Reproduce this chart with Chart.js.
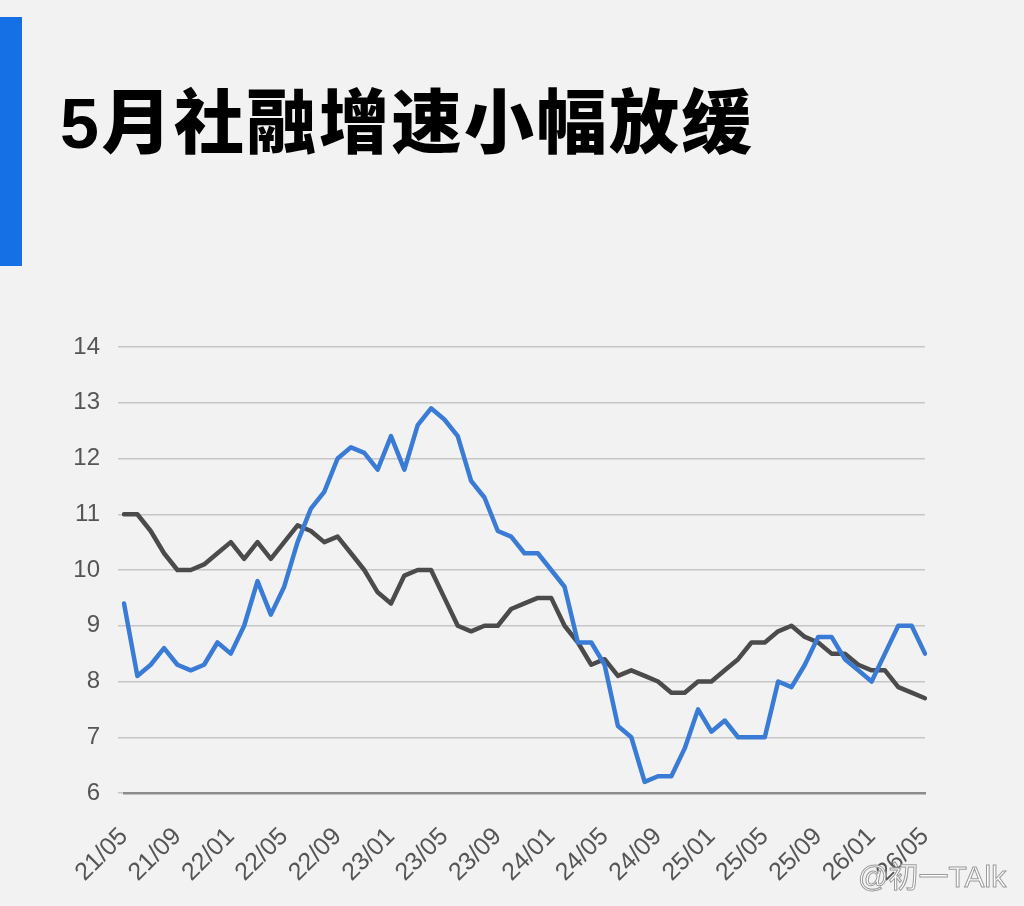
<!DOCTYPE html>
<html>
<head>
<meta charset="utf-8">
<script src="https://cdn.jsdelivr.net/npm/chart.js@4.4.1/dist/chart.umd.min.js"></script>
<style>
  html, body { margin: 0; padding: 0; background: #f2f2f2; }
  body { width: 1024px; height: 906px; position: relative; overflow: hidden; }
  #bar { position: absolute; left: 0; top: 17px; width: 22px; height: 249px; background: #1570e6; }
  #title { position: absolute; left: 60px; top: 89px; font-family: "Liberation Sans", "Noto Sans CJK SC", sans-serif; font-weight: 900; font-size: 70px; line-height: 1; letter-spacing: 2.5px; color: #000; white-space: nowrap; }
  #wrap { position: absolute; left: 0; top: 0; width: 1024px; height: 906px; }
  #wm { position: absolute; left: 858px; top: 852px; font-family: "Liberation Sans", "Noto Sans CJK SC", sans-serif; font-size: 30px; color: #ffffff; -webkit-text-stroke: 1px #9a9a9a; white-space: nowrap; }
</style>
</head>
<body>
<div id="bar"></div>
<div id="title">5月社融增速小幅放缓</div>
<div id="wrap"><canvas id="c" width="1024" height="906"></canvas></div>
<div id="wm">@初一TAlk</div>
<script>
const months = [
  "21/05","21/06","21/07","21/08","21/09","21/10","21/11","21/12",
  "22/01","22/02","22/03","22/04","22/05","22/06","22/07","22/08","22/09","22/10","22/11","22/12",
  "23/01","23/02","23/03","23/04","23/05","23/06","23/07","23/08","23/09","23/10","23/11","23/12",
  "24/01","24/02","24/03","24/04","24/05","24/06","24/07","24/08","24/09","24/10","24/11","24/12",
  "25/01","25/02","25/03","25/04","25/05","25/06","25/07","25/08","25/09","25/10","25/11","25/12",
  "26/01","26/02","26/03","26/04","26/05"
];
const blueSeries = [
  9.4, 8.1, 8.3, 8.6, 8.3, 8.2, 8.3, 8.7,
  8.5, 9.0, 9.8, 9.2, 9.7, 10.5, 11.1, 11.4, 12.0, 12.2, 12.1, 11.8,
  12.4, 11.8, 12.6, 12.9, 12.7, 12.4, 11.6, 11.3, 10.7, 10.6, 10.3, 10.3,
  10.0, 9.7, 8.7, 8.7, 8.3, 7.2, 7.0, 6.2, 6.3, 6.3, 6.8, 7.5,
  7.1, 7.3, 7.0, 7.0, 7.0, 8.0, 7.9, 8.3, 8.8, 8.8, 8.4, 8.2,
  8.0, 8.5, 9.0, 9.0, 8.5
];
const graySeries = [
  11.0, 11.0, 10.7, 10.3, 10.0, 10.0, 10.1, 10.3,
  10.5, 10.2, 10.5, 10.2, 10.5, 10.8, 10.7, 10.5, 10.6, 10.3, 10.0, 9.6,
  9.4, 9.9, 10.0, 10.0, 9.5, 9.0, 8.9, 9.0, 9.0, 9.3, 9.4, 9.5,
  9.5, 9.0, 8.7, 8.3, 8.4, 8.1, 8.2, 8.1, 8.0, 7.8, 7.8, 8.0,
  8.0, 8.2, 8.4, 8.7, 8.7, 8.9, 9.0, 8.8, 8.7, 8.5, 8.5, 8.3,
  8.2, 8.2, 7.9, 7.8, 7.7
];
const yMin = 6, yMax = 14, yStep = 1;
const labelEvery = 4;

new Chart(document.getElementById('c'), {
  type: 'line',
  data: {
    labels: months,
    datasets: [
      { data: blueSeries, borderColor: '#3a7bd5', borderWidth: 4.5, pointRadius: 0, tension: 0, borderJoinStyle: 'round', borderCapStyle: 'round' },
      { data: graySeries, borderColor: '#4b4b4b', borderWidth: 4.5, pointRadius: 0, tension: 0, borderJoinStyle: 'round', borderCapStyle: 'round' }
    ]
  },
  options: {
    responsive: false,
    animation: false,
    events: [],
    layout: { padding: { top: 347, right: 99, bottom: 0, left: 0 } },
    plugins: { legend: { display: false }, tooltip: { enabled: false }, title: { display: false } },
    scales: {
      x: {
        type: 'category',
        offset: false,
        grid: { display: false },
        border: { display: true, color: '#8c8c8c', width: 2.5 },
        ticks: {
          autoSkip: false,
          maxRotation: 45, minRotation: 45,
          padding: 21,
          color: '#555555',
          font: { family: 'Liberation Sans, Arial, sans-serif', size: 25 },
          callback: function(v, i) { return i % labelEvery === 0 ? months[i] : null; }
        },
        afterFit: function(s) { s.height = 113; }
      },
      y: {
        min: yMin, max: yMax,
        grid: { color: '#c6c6c6', lineWidth: 1.5, drawTicks: true, tickLength: 6 },
        border: { display: false },
        ticks: {
          stepSize: yStep,
          padding: 18,
          color: '#555555',
          font: { family: 'Liberation Sans, Arial, sans-serif', size: 24 }
        },
        afterFit: function(s) { s.width = 124; }
      }
    }
  }
});
</script>
</body>
</html>
